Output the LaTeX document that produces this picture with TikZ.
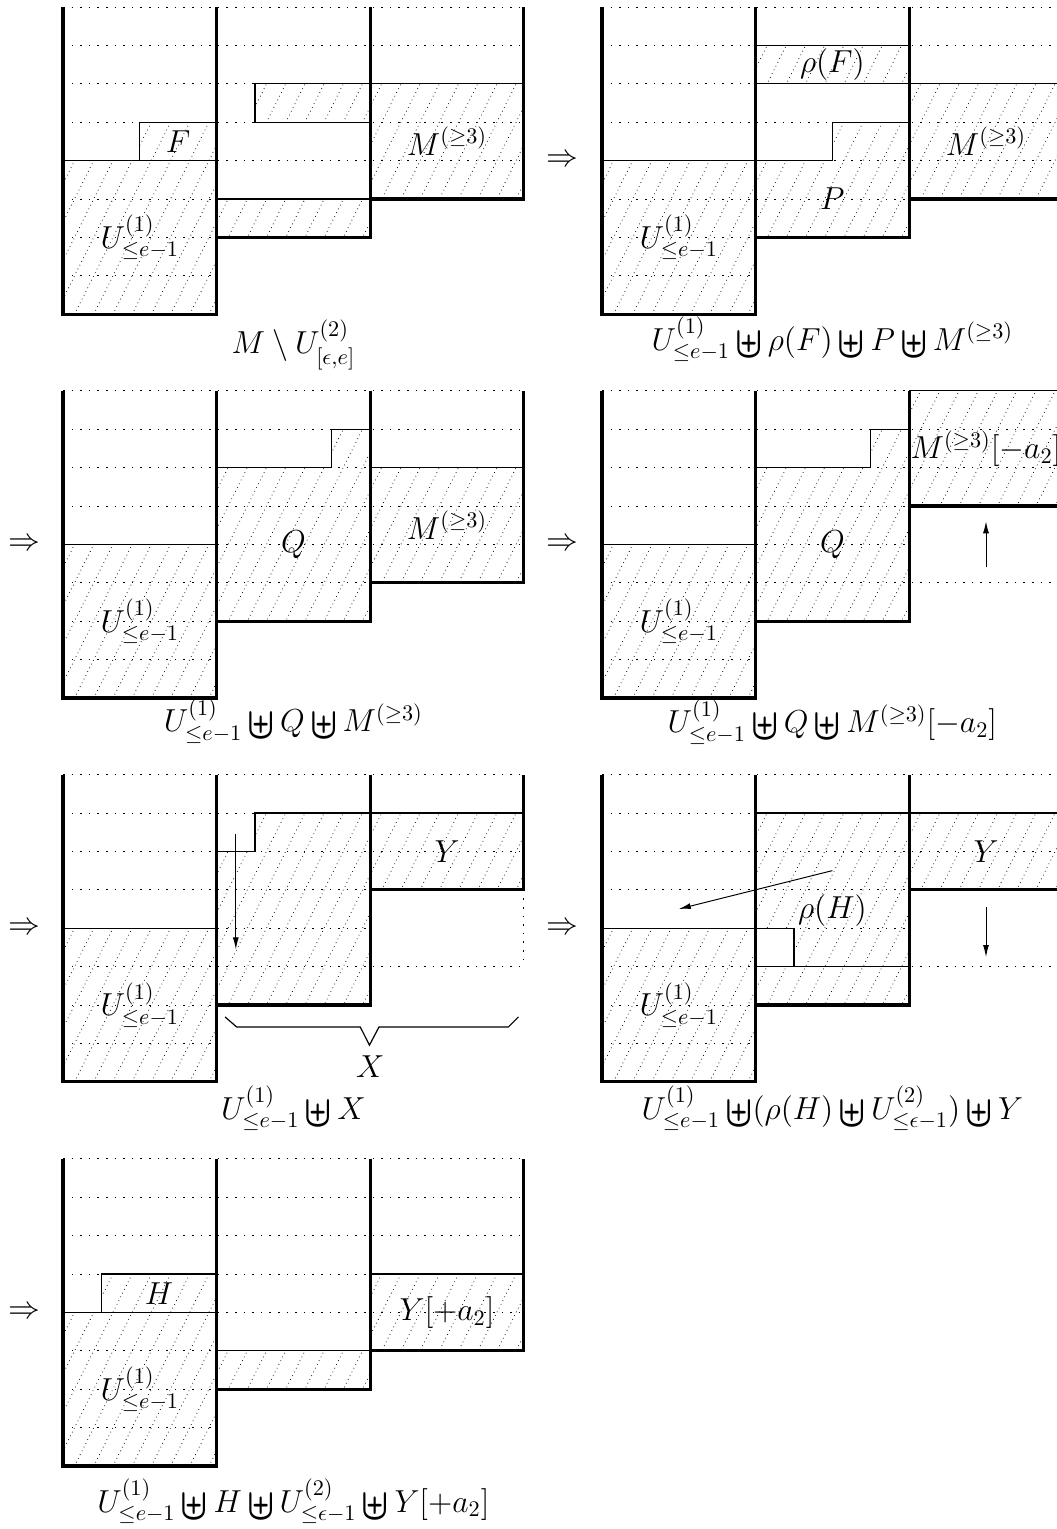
\RequirePackage{fix-cm}
\documentclass[tikz,border=0pt]{standalone}
\usepackage{amsmath,amssymb,graphicx}
\usetikzlibrary{arrows.meta}
\newcommand\du{\mathop{\raisebox{-0.22em}{\scalebox{1.12}[1.4]{$\boldsymbol{\uplus}$}}}\nolimits}
\newcommand\Ul{U^{(1)}_{\leq e-1}}
\newcommand\hatch[1]{\begin{scope}\clip #1;\foreach \i in {0,...,36}{\draw[hatchline] ({-4.8+0.5*\i},-0.2) -- ++(4.2,8.4);}\end{scope}}
\tikzset{
  wall/.style={line width=1.65pt},
  bord/.style={line width=0.6pt},
  gridline/.style={line width=0.5pt, dash pattern=on 0.8pt off 3.5pt},
  hatchline/.style={line width=0.4pt, dash pattern=on 0.35pt off 1.75pt},
  arr/.style={line width=0.5pt, -{Latex[length=6pt,width=3pt]}},
  every node/.style={font=\fontsize{15.9}{19}\selectfont}
}
\begin{document}
\begin{tikzpicture}[x=19.2pt,y=19.2pt]
\useasboundingbox (0,0) rectangle (27.526,39.818);
\clip (0,0) rectangle (27.526,39.818);

% ---------- Panel 1
\begin{scope}[shift={(1.641,31.635)}]
 \hatch{(0,0) rectangle (4,4)}
 \hatch{(2,4) rectangle (4,5)}
 \hatch{(4,2) rectangle (8,3)}
 \hatch{(5,5) rectangle (8,6)}
 \hatch{(8,3) rectangle (12,6)}
 \draw[gridline] (0,8)--(12,8) (0,7)--(12,7) (0,6)--(12,6) (0,5)--(12,5) (0,4)--(12,4) (0,3)--(8,3) (0,2)--(4,2) (0,1)--(4,1);
 \draw[bord] (0,4)--(4,4) (2,4)--(2,5)--(4,5) (4,3)--(8,3) (8,5)--(5,5)--(5,6)--(12,6);
 \draw[wall] (0,8)--(0,0)--(4,0)--(4,2)--(8,2)--(8,3)--(12,3)--(12,8) (4,2)--(4,8) (8,3)--(8,8);
 \node (p1u) at (2,2) {$\Ul$};
 \node (p1f) at (3,4.5) {$F$};
 \node (p1m) at (10,4.5) {$M^{(\geq 3)}$};
 \node[anchor=base] (p1c) at (6,-1.02) {$M \setminus U^{(2)}_{[\epsilon,e]}$};
\end{scope}

% ---------- Panel 2
\begin{scope}[shift={(15.677,31.635)}]
 \hatch{(0,0) rectangle (4,4)}
 \hatch{(4,2)--(4,4)--(6,4)--(6,5)--(8,5)--(8,2)--cycle}
 \hatch{(4,6) rectangle (8,7)}
 \hatch{(8,3) rectangle (12,6)}
 \draw[gridline] (0,8)--(12,8) (0,7)--(12,7) (0,6)--(12,6) (0,5)--(12,5) (0,4)--(12,4) (0,3)--(8,3) (0,2)--(4,2) (0,1)--(4,1);
 \draw[bord] (0,4)--(6,4)--(6,5)--(8,5) (4,7)--(8,7) (4,6)--(12,6);
 \draw[wall] (0,8)--(0,0)--(4,0)--(4,2)--(8,2)--(8,3)--(12,3)--(12,8) (4,2)--(4,8) (8,3)--(8,8);
 \node (p2u) at (2,2) {$\Ul$};
 \node (p2rf) at (6,6.5) {$\rho(F)$};
 \node (p2p) at (6,3) {$P$};
 \node (p2m) at (10,4.5) {$M^{(\geq 3)}$};
 \node (p2i) at (-1.04,4) {$\Rightarrow$};
 \node[anchor=base] (p2c) at (6,-0.94) {$\Ul \du \rho(F) \du P \du M^{(\geq 3)}$};
\end{scope}

% ---------- Panel 3
\begin{scope}[shift={(1.641,21.64)}]
 \hatch{(0,0) rectangle (4,4)}
 \hatch{(4,2)--(4,6)--(7,6)--(7,7)--(8,7)--(8,2)--cycle}
 \hatch{(8,3) rectangle (12,6)}
 \draw[gridline] (0,8)--(12,8) (0,7)--(12,7) (0,6)--(12,6) (0,5)--(12,5) (0,4)--(12,4) (0,3)--(8,3) (0,2)--(4,2) (0,1)--(4,1);
 \draw[bord] (0,4)--(4,4) (4,6)--(7,6)--(7,7)--(8,7) (8,6)--(12,6);
 \draw[wall] (0,8)--(0,0)--(4,0)--(4,2)--(8,2)--(8,3)--(12,3)--(12,8) (4,2)--(4,8) (8,3)--(8,8);
 \node (p3u) at (2,2) {$\Ul$};
 \node (p3q) at (6,4) {$Q$};
 \node (p3m) at (10,4.5) {$M^{(\geq 3)}$};
 \node (p3i) at (-1,4) {$\Rightarrow$};
 \node[anchor=base] (p3c) at (6,-0.88) {$\Ul \du Q \du M^{(\geq 3)}$};
\end{scope}

% ---------- Panel 4
\begin{scope}[shift={(15.677,21.64)}]
 \hatch{(0,0) rectangle (4,4)}
 \hatch{(4,2)--(4,6)--(7,6)--(7,7)--(8,7)--(8,2)--cycle}
 \hatch{(8,5) rectangle (12,8)}
 \draw[gridline] (0,8)--(12,8) (0,7)--(12,7) (0,6)--(12,6) (0,5)--(8,5) (0,4)--(8,4) (0,3)--(12,3) (0,2)--(4,2) (0,1)--(4,1);
 \draw[bord] (0,4)--(4,4) (4,6)--(7,6)--(7,7)--(8,7) (8,8)--(12,8);
 \draw[wall] (0,8)--(0,0)--(4,0)--(4,2)--(8,2)--(8,8) (4,2)--(4,8) (8,5)--(12,5)--(12,8);
 \coordinate (p4a) at (10,3.4);
 \coordinate (p4b) at (10,4.6);
 \draw[arr] (p4a) -- (p4b);
 \node (p4u) at (2,2) {$\Ul$};
 \node (p4q) at (6,4) {$Q$};
 \node (p4m) at (10,6.5) {$M^{(\geq 3)}[-a_2]$};
 \node (p4i) at (-1.04,4) {$\Rightarrow$};
 \node[anchor=base] (p4c) at (6,-0.91) {$\Ul \du Q \du M^{(\geq 3)}[-a_2]$};
\end{scope}

% ---------- Panel 5
\begin{scope}[shift={(1.641,11.645)}]
 \hatch{(0,0) rectangle (4,4)}
 \hatch{(4,2)--(4,6)--(5,6)--(5,7)--(8,7)--(8,2)--cycle}
 \hatch{(8,5) rectangle (12,7)}
 \draw[gridline] (0,8)--(12,8) (0,7)--(12,7) (0,6)--(12,6) (0,5)--(8,5) (0,4)--(8,4) (0,3)--(12,3) (0,2)--(4,2) (0,1)--(4,1) (12,5)--(12,3);
 \draw[bord] (0,4)--(4,4) (4,6)--(5,6)--(5,7)--(12,7);
 \draw[wall] (0,8)--(0,0)--(4,0)--(4,2)--(8,2)--(8,8) (4,2)--(4,8) (8,5)--(12,5)--(12,8);
 \coordinate (p5a) at (4.5,6.45);
 \coordinate (p5b) at (4.5,3.45);
 \draw[arr] (p5a) -- (p5b);
 \draw[bord] (4.22,1.69)--(4.52,1.43)--(7.74,1.43)--(7.98,0.955)--(8.23,1.43)--(11.6,1.43)--(11.86,1.69);
 \node (p5x) at (8,0.39) {$X$};
 \node (p5u) at (2,2) {$\Ul$};
 \node (p5y) at (10,6) {$Y$};
 \node (p5i) at (-1,4) {$\Rightarrow$};
 \node[anchor=base] (p5c) at (6,-0.97) {$\Ul \du X$};
\end{scope}

% ---------- Panel 6
\begin{scope}[shift={(15.677,11.645)}]
 \hatch{(0,0) rectangle (4,4)}
 \hatch{(4,2) rectangle (8,3)}
 \hatch{(4,4)--(4,7)--(8,7)--(8,3)--(5,3)--(5,4)--cycle}
 \hatch{(8,5) rectangle (12,7)}
 \draw[gridline] (0,8)--(12,8) (0,7)--(12,7) (0,6)--(12,6) (0,5)--(8,5) (0,4)--(8,4) (0,3)--(12,3) (0,2)--(4,2) (0,1)--(4,1);
 \draw[bord] (0,4)--(5,4)--(5,3) (4,3)--(8,3) (4,7)--(12,7);
 \draw[wall] (0,8)--(0,0)--(4,0)--(4,2)--(8,2)--(8,8) (4,2)--(4,8) (8,5)--(12,5)--(12,8);
 \coordinate (p6a) at (6,5.5);
 \coordinate (p6b) at (2,4.5);
 \draw[arr] (p6a) -- (p6b);
 \coordinate (p6c1) at (10,4.55);
 \coordinate (p6c2) at (10,3.25);
 \draw[arr] (p6c1) -- (p6c2);
 \node (p6u) at (2,2) {$\Ul$};
 \node (p6rh) at (6,4.45) {$\rho(H)$};
 \node (p6y) at (10,6) {$Y$};
 \node (p6i) at (-1.04,4) {$\Rightarrow$};
 \node[anchor=base] (p6c) at (6,-0.97) {$\Ul \du(\rho(H) \du U^{(2)}_{\leq \epsilon-1}) \du Y$};
\end{scope}

% ---------- Panel 7
\begin{scope}[shift={(1.641,1.64)}]
 \hatch{(0,0) rectangle (4,4)}
 \hatch{(1,4) rectangle (4,5)}
 \hatch{(4,2) rectangle (8,3)}
 \hatch{(8,3) rectangle (12,5)}
 \draw[gridline] (0,8)--(12,8) (0,7)--(12,7) (0,6)--(12,6) (0,5)--(12,5) (0,4)--(12,4) (0,3)--(8,3) (0,2)--(4,2) (0,1)--(4,1);
 \draw[bord] (0,4)--(4,4) (1,4)--(1,5)--(4,5) (4,3)--(8,3) (8,5)--(12,5);
 \draw[wall] (0,8)--(0,0)--(4,0)--(4,2)--(8,2)--(8,3)--(12,3)--(12,8) (4,2)--(4,8) (8,3)--(8,8);
 \node (p7u) at (2,2) {$\Ul$};
 \node (p7h) at (2.5,4.5) {$H$};
 \node (p7y) at (10,4) {$Y[+a_2]$};
 \node (p7i) at (-1,4) {$\Rightarrow$};
 \node[anchor=base] (p7c) at (6,-1.2) {$\Ul \du H \du U^{(2)}_{\leq \epsilon-1} \du Y[+a_2]$};
\end{scope}
\end{tikzpicture}
\end{document}
